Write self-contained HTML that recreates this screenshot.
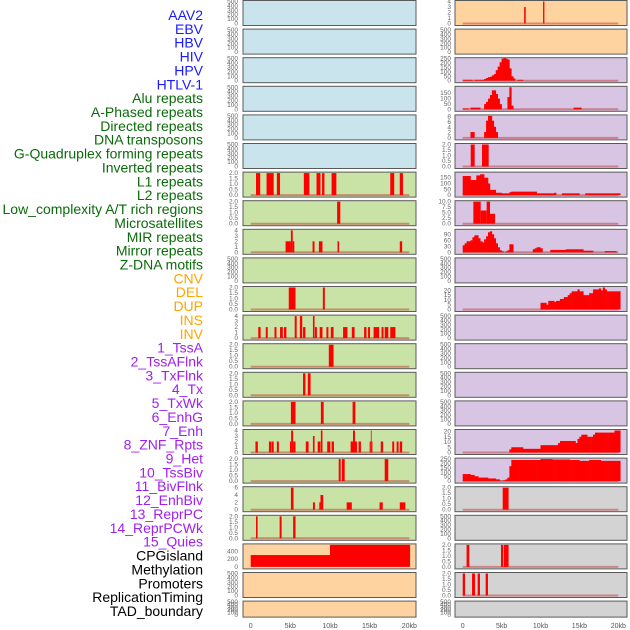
<!DOCTYPE html>
<html><head><meta charset="utf-8"><style>
html,body{margin:0;padding:0;background:#fff;}
svg{display:block;font-family:"Liberation Sans",sans-serif;}
</style></head><body>
<svg id="chart" width="630" height="630" viewBox="0 0 630 630" xmlns="http://www.w3.org/2000/svg">
<g id="labels"></g>
<g id="panels"></g>
<g id="xaxes"></g>
</svg>
<script>
const featureNames = ["AAV2","EBV","HBV","HIV","HPV","HTLV-1","Alu repeats","A-Phased repeats","Directed repeats","DNA transposons","G-Quadruplex forming repeats","Inverted repeats","L1 repeats","L2 repeats","Low_complexity A/T rich regions","Microsatellites","MIR repeats","Mirror repeats","Z-DNA motifs","CNV","DEL","DUP","INS","INV","1_TssA","2_TssAFlnk","3_TxFlnk","4_Tx","5_TxWk","6_EnhG","7_Enh","8_ZNF_Rpts","9_Het","10_TssBiv","11_BivFlnk","12_EnhBiv","13_ReprPC","14_ReprPCWk","15_Quies","CPGisland","Methylation","Promoters","ReplicationTiming","TAD_boundary"];
const featureGroups = ["virus","virus","virus","virus","virus","virus","repeat","repeat","repeat","repeat","repeat","repeat","repeat","repeat","repeat","repeat","repeat","repeat","repeat","sv","sv","sv","sv","sv","chrom","chrom","chrom","chrom","chrom","chrom","chrom","chrom","chrom","chrom","chrom","chrom","chrom","chrom","chrom","other","other","other","other","other"];
const xTickValues = [0,5,10,15,20];
const xTickLabels = ["0","5kb","10kb","15kb","20kb"];

const T_EMPTY = ["0","100","200","300","400","500"];
const T_2 = ["0.0","0.5","1.0","1.5","2.0"];
const T_4 = ["0","1","2","3","4"];
const T_6 = ["0","2","4","6"];
const T_8 = ["0","2","4","6","8"];
const T_10 = ["0.0","2.5","5.0","7.5","10.0"];
const T_20 = ["0","5","10","15","20"];
const T_250 = ["0","50","100","150","200","250"];
const T_150 = ["0","50","100","150"];
const T_90 = ["0","30","60","90"];
const T_400 = ["0","200","400"];

// sparse segments: [startKb, endKb, value]
const L6 = [[0.67,1.2,2],[2.0,2.9,2],[3.3,3.7,2],[6.7,7.4,2],[8.3,8.8,2],[9.0,9.3,2],[10.2,10.8,2],[17.6,18.1,2],[18.8,19.2,2]];
const L7 = [[10.9,11.3,2]];
const L8 = [[4.4,5.07,2],[5.07,5.3,4],[5.3,5.5,2],[7.8,8.05,2],[8.6,9.05,2],[10.95,11.15,2],[18.8,19.1,2]];
const L10 = [[4.8,5.65,2],[9.1,9.35,2]];
const L11 = [[0.95,1.25,2],[1.9,2.15,2],[3.0,3.25,2],[3.7,4.05,2],[4.2,4.5,2],[5.55,5.8,4],[6.2,6.5,4],[6.6,6.9,2],[7.85,8.05,4],[8.1,8.35,2],[8.7,9.05,2],[9.55,9.8,2],[10.1,10.45,2],[11.65,12.2,2],[12.75,13.1,2],[14.3,14.6,2],[14.8,15.05,2],[15.5,16.2,2],[16.5,16.75,2],[16.9,17.35,2],[17.6,18.25,2]];
const L12 = [[9.85,10.45,2]];
const L13 = [[6.6,6.9,2],[7.2,7.55,2]];
const L14 = [[5.07,5.65,2],[8.85,9.2,2],[12.85,13.2,2]];
const L15 = [[0.6,0.9,2],[2.3,2.6,2],[2.65,2.9,2],[3.3,3.55,2],[4.95,5.1,2],[5.1,5.35,4],[5.35,5.65,2],[6.95,7.3,2],[7.85,8.05,3],[8.45,8.8,2],[8.85,9.05,4],[9.65,10.05,2],[10.2,10.5,2],[12.6,12.9,2],[12.9,13.15,4],[13.15,13.4,2],[13.6,13.9,2],[15.0,15.15,2],[15.15,15.25,4],[15.25,15.35,2],[16.4,16.7,2],[17.85,18.1,2],[18.4,18.65,2],[18.8,19.1,2]];
const L16 = [[11.1,11.35,2],[11.5,11.85,2],[16.9,17.35,2]];
const L17 = [[5.07,5.4,6],[7.85,8.1,2],[8.65,8.8,2],[8.8,9.15,4],[12.1,12.75,2],[16.25,16.65,2],[18.8,19.5,2]];
const L18 = [[0.67,0.87,2],[3.65,3.9,2],[5.35,5.65,2]];
const L19 = [[0,10,310],[10,20.1,575]];
const R0 = [[7.9,8.1,3],[10.33,10.5,4]];
const R5 = [[1.03,1.54,2],[2.48,3.34,2]];
const R7 = [[1.37,2.31,10],[2.31,3.08,6],[3.08,3.51,10],[3.51,4.16,4.5]];
const R17 = [[5.14,5.9,2]];
const R19 = [[0.5,0.85,2],[4.92,5.18,2],[5.27,5.9,2]];
const R20 = [[0,0.3,2],[1.2,1.58,2],[1.92,2.22,2],[2.95,3.25,2]];

// histograms: consecutive 0.25kb bins starting at 0kb
const R2 = [10,10,10,10,10,0,10,10,10,10,10,20,30,40,45,60,75,120,160,210,250,260,250,240,140,50,25,0,10,10,10];
const R3 = [8,8,8,0,15,15,15,15,15,0,0,47,67,97,130,172,172,139,97,47,0,0,0,111,200,33,0,0,0,0,0,0,0,0,0,0,0,0,0,0,0,0,0,0,0,0,0,0,0,0,0,0,0,0,0,0,0,15,15,15,15];
const R4 = [0,0,0,0,2.2,2.2,0,0,0,0,0,2.2,6.5,8.3,8.3,6.5,4.2,2.2];
const R6 = [165,165,165,165,130,130,130,170,170,180,180,150,150,100,45,45,45,20,20,20,15,15,15,15,25,30,30,30,30,30,30,30,30,30,30,30,30,30,15,15,15,15,15,15,15,15,15,20,0,0,0,15,15,15,15,15,15,15,15,15,0,0,0,15,15,15,15,15,15,15,15,15,15,15,15,15,15,15,15,15,15];
const R8 = [35,45,55,55,60,75,85,85,70,55,50,65,80,100,105,90,70,45,25,10,5,0,5,10,40,40,0,0,0,0,0,0,0,0,0,0,15,20,25,25,20,0,0,0,0,12,12,12,12,12,12,12,12,15,15,15,15,15,15,15,15,15,8,8,8,8,8,0,0,0,0,0,0,6,6,6,6,6,6];
const R10 = [0,0,0,0,0,0,0,0,0,0,0,0,0,0,0,0,0,0,0,0,0,0,0,0,0,0,0,0,0,0,0,0,0,0,0,0,0,0,0,0,7,7,7,5,9,9,9,8,9,9,11,11,13,13,15,17,19,19,19,21,19,19,15,15,15,17,17,21,21,21,22,20,23,21,19,19,19,19,19,19,19];
const R15 = [0,0,0,0,0,0,0,0,0,0,0,0,0,0,0,0,0,0,0,0,0,0,0,0,3,5,5,5,5,5,5,3.5,3.5,3.5,3.5,3.5,3.5,3.5,3.5,3.5,7,7,7,7,7,7,7,7,7,9,11,11,11,11,11,11,11,11,9,13,15,17,17,17,15,15,15,17,19,19,19,19,19,19,19,19,19,19,21,21,21];
const R16 = [80,80,80,80,70,70,55,55,40,40,40,40,40,30,30,30,30,20,20,5,5,10,20,40,170,240,240,240,240,240,240,240,240,240,240,240,240,240,240,240,250,250,250,250,250,250,245,245,245,245,245,245,245,245,245,240,240,240,240,240,230,230,230,230,230,240,240,240,240,240,240,230,230,230,230,230,230,230,230,230,230];

// panel config: [row, side, kind, data, yMax, ticks, bg]
const panelConfig = [
 [0,"L","empty",null,500,T_EMPTY,"B"],[0,"R","seg",R0,4,T_4,"O"],
 [1,"L","empty",null,500,T_EMPTY,"B"],[1,"R","empty",null,500,T_EMPTY,"O"],
 [2,"L","empty",null,500,T_EMPTY,"B"],[2,"R","hist",R2,250,T_250,"P"],
 [3,"L","empty",null,500,T_EMPTY,"B"],[3,"R","hist",R3,200,T_150,"P"],
 [4,"L","empty",null,500,T_EMPTY,"B"],[4,"R","hist",R4,8.3,T_8,"P"],
 [5,"L","empty",null,500,T_EMPTY,"B"],[5,"R","seg",R5,2,T_2,"P"],
 [6,"L","seg",L6,2,T_2,"G"],[6,"R","hist",R6,190,T_150,"P"],
 [7,"L","seg",L7,2,T_2,"G"],[7,"R","seg",R7,10,T_10,"P"],
 [8,"L","seg",L8,4,T_4,"G"],[8,"R","hist",R8,110,T_90,"P"],
 [9,"L","empty",null,500,T_EMPTY,"G"],[9,"R","empty",null,500,T_EMPTY,"P"],
 [10,"L","seg",L10,2,T_2,"G"],[10,"R","hist",R10,23,T_20,"P"],
 [11,"L","seg",L11,4,T_4,"G"],[11,"R","empty",null,500,T_EMPTY,"P"],
 [12,"L","seg",L12,2,T_2,"G"],[12,"R","empty",null,500,T_EMPTY,"P"],
 [13,"L","seg",L13,2,T_2,"G"],[13,"R","empty",null,500,T_EMPTY,"P"],
 [14,"L","seg",L14,2,T_2,"G"],[14,"R","empty",null,500,T_EMPTY,"P"],
 [15,"L","seg",L15,4,T_4,"G"],[15,"R","hist",R15,21,T_20,"P"],
 [16,"L","seg",L16,2,T_2,"G"],[16,"R","hist",R16,250,T_250,"P"],
 [17,"L","seg",L17,6,T_6,"G"],[17,"R","seg",R17,2,T_2,"Y"],
 [18,"L","seg",L18,2,T_2,"G"],[18,"R","empty",null,500,T_EMPTY,"Y"],
 [19,"L","seg",L19,575,T_400,"O"],[19,"R","seg",R19,2,T_2,"Y"],
 [20,"L","empty",null,500,T_EMPTY,"O"],[20,"R","seg",R20,2,T_2,"Y"],
 [21,"L","empty",null,500,T_EMPTY,"O"],[21,"R","empty",null,500,T_EMPTY,"Y"]
];

const NS = "http://www.w3.org/2000/svg";
const bgColors = {B:"#c9e4ec",G:"#c9e2a5",O:"#ffd39f",P:"#d7c5e3",Y:"#d3d3d3"};
const groupColors = {virus:"#1a1aff",repeat:"#0a6b0a",sv:"#ffa500",chrom:"#a020f0",other:"#000000"};
function mk(tag, attrs, parent){const e=document.createElementNS(NS,tag);for(const k in attrs)e.setAttribute(k,attrs[k]);parent.appendChild(e);return e;}

const side = {L:{x0:243,w:173,kb0:250.7,pk:7.93,tickX:238},R:{x0:455,w:172,kb0:462.7,pk:7.78,tickX:451}};
function xScale(s,kb){return side[s].kb0+kb*side[s].pk;}
function rowTop(r){return r*28.6+0.5;}
function rowH(r){return r===21?16:25;}
function yScale(r,v,ymax){const t=rowTop(r),h=rowH(r);return t+h-2-(v/ymax)*(h-3);}

const labelsG=document.getElementById('labels');
featureNames.forEach((n,i)=>{
  const t=mk('text',{x:203,y:(15+i*13.86+5).toFixed(1),'text-anchor':'end','font-size':'14',fill:groupColors[featureGroups[i]]},labelsG);
  t.textContent=n;
  
  
});

const panelsG=document.getElementById('panels');
panelConfig.forEach((p,idx)=>{
  const [r,s,kind,data,ymax,ticks,bg]=p;
  const g=mk('g',{},panelsG);
  
  
  const top=rowTop(r),h=rowH(r),S=side[s];
  const bgR=mk('rect',{x:S.x0,y:top,width:S.w,height:h,fill:bgColors[bg]},g);
  
  
  // ticks
  ticks.forEach(tl=>{
    const v=parseFloat(tl);
    const t=mk('text',{x:S.tickX,y:(yScale(r,v,ymax)+2).toFixed(1),'text-anchor':'end','font-size':'6.5',fill:'#666'},g);
    t.textContent=tl;
    
    
  });
  const y0=yScale(r,0,ymax);
  if(kind!=="empty" && !(r===19&&s==="L")){
    const bl=mk('line',{x1:xScale(s,0),x2:xScale(s,20),y1:y0,y2:y0,stroke:'rgba(190,40,40,0.45)','stroke-width':2},g);
    
    
  }
  if(kind==="seg"){
    data.forEach(d=>{
      const x1=xScale(s,d[0]),x2=xScale(s,d[1]),yv=Math.max(top,yScale(r,d[2],ymax));
      const b=mk('rect',{x:x1.toFixed(2),y:yv.toFixed(2),width:Math.max(0.8,x2-x1).toFixed(2),height:(y0-yv).toFixed(2),fill:'#ff0000'},g);
      
      
    });
  } else if(kind==="hist"){
    data.forEach((v,i)=>{
      if(v<=0)return;
      const x1=xScale(s,i*0.25),x2=xScale(s,(i+1)*0.25),yv=Math.max(top,yScale(r,v,ymax));
      const b=mk('rect',{x:x1.toFixed(2),y:yv.toFixed(2),width:(x2-x1+0.3).toFixed(2),height:(y0-yv).toFixed(2),fill:'#ff0000'},g);
      
      
    });
  }
  const br=mk('rect',{x:S.x0,y:top,width:S.w,height:h,fill:'none',stroke:'#5a5a5a','stroke-width':1},g);
  
  
});

const xG=document.getElementById('xaxes');
["L","R"].forEach(s=>{
  xTickValues.forEach((v,i)=>{
    const t=mk('text',{x:xScale(s,v).toFixed(1),y:628,'text-anchor':'middle','font-size':'7',fill:'#555'},xG);
    t.textContent=xTickLabels[i];
    
    
  });
});
</script>
</body></html>
